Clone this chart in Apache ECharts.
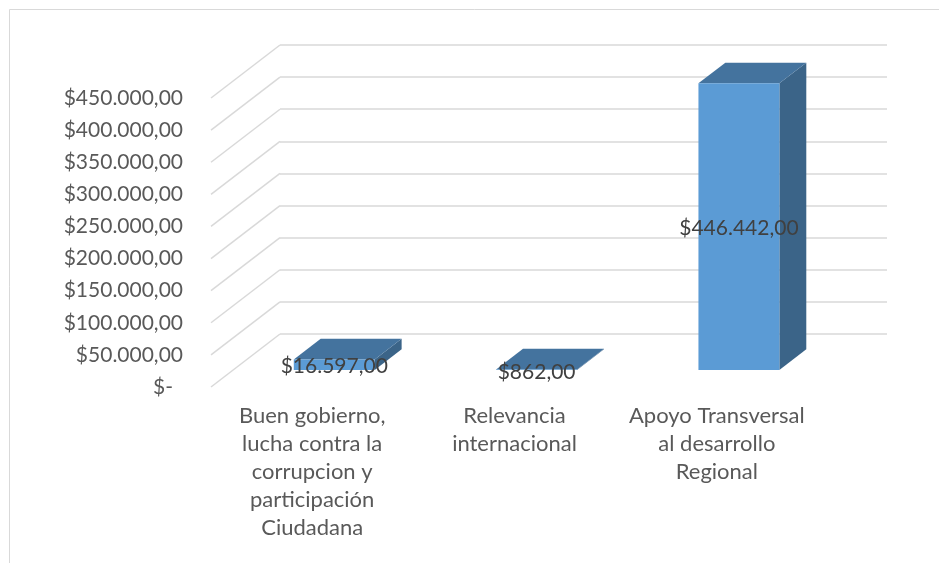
<!DOCTYPE html>
<html>
<head>
<meta charset="utf-8">
<script src="https://cdn.jsdelivr.net/npm/echarts@6/dist/echarts.min.js"></script>
<style>
    html, body { margin: 0; padding: 0; background: #fff; }
    #chart { width: 939px; height: 563px; }
</style>
</head>
<body>
<div id="chart"></div>
<script>
// data
const categories = [
    'Buen gobierno,\nlucha contra la\ncorrupcion y\nparticipación\nCiudadana',
    'Relevancia\ninternacional',
    'Apoyo Transversal\nal desarrollo\nRegional'
];
const values = [16597, 862, 446442];
const yTicks = [0, 50000, 100000, 150000, 200000, 250000, 300000, 350000, 400000, 450000];

// 3d look: floor depth and where the bars stand on it
const FLOOR_DX = -69;
const FLOOR_DY = 53;
const BAR_FRONT = 0.68;
const BAR_DEPTH = 0.39;
const FONT = 'Lato, "Open Sans", sans-serif';

function money(v) {
    if (v === 0) return '$-';
    const s = Math.round(v).toString().replace(/\B(?=(\d{3})+(?!\d))/g, '.');
    return '$' + s + ',00';
}

const chart = echarts.init(document.getElementById('chart'));

const option = {
    backgroundColor: '#fff',
    animation: false,
    graphic: [{
        type: 'rect',
        shape: { x: 9.5, y: 9.5, width: 1200, height: 1200 },
        style: { fill: 'none', stroke: '#d9d9d9', lineWidth: 1 },
        silent: true
    }],
    grid: [
        // back wall
        { left: 280, right: 52, top: 45, bottom: 229 },
        // front edge, carries the labels
        { left: 211, right: 121, top: 98, bottom: 176 }
    ],
    xAxis: [
        {
            type: 'category', gridIndex: 0, data: categories,
            axisLine: { show: false }, axisTick: { show: false }, axisLabel: { show: false }
        },
        {
            type: 'category', gridIndex: 1, data: categories,
            axisLine: { show: false }, axisTick: { show: false },
            axisLabel: {
                margin: 15, color: '#595959', fontSize: 22, fontFamily: FONT,
                lineHeight: 28, align: 'center', interval: 0
            }
        }
    ],
    yAxis: [
        {
            type: 'value', gridIndex: 0, min: 0, max: 450000, interval: 50000,
            axisLine: { show: false }, axisTick: { show: false }, axisLabel: { show: false },
            splitLine: { lineStyle: { color: '#d9d9d9', width: 1.5 } }
        },
        {
            type: 'value', gridIndex: 1, min: 0, max: 450000, interval: 50000,
            axisLine: { show: false }, axisTick: { show: false }, splitLine: { show: false },
            axisLabel: {
                margin: 28, color: '#595959', fontSize: 21, fontFamily: FONT,
                formatter: v => v === 0 ? '{z|$-}' : money(v),
                rich: { z: { fontSize: 21, fontFamily: FONT, color: '#595959', padding: [0, 10, 0, 0] } }
            }
        }
    ],
    series: [
        {
            // diagonal lines on the side wall
            type: 'custom',
            xAxisIndex: 0, yAxisIndex: 0,
            silent: true,
            data: yTicks.map(v => [0, v]),
            renderItem: function (params, api) {
                const y = api.coord([0, api.value(1)])[1];
                const x = params.coordSys.x;
                return {
                    type: 'line',
                    shape: { x1: x, y1: y, x2: x + FLOOR_DX, y2: y + FLOOR_DY },
                    style: { stroke: '#d9d9d9', lineWidth: 1.5 }
                };
            }
        },
        {
            type: 'custom',
            xAxisIndex: 0, yAxisIndex: 0,
            data: values.map((v, i) => [i, v]),
            renderItem: function (params, api) {
                const top = api.coord([api.value(0), api.value(1)]);
                const base = api.coord([api.value(0), 0]);
                const bw = api.size([1, 0])[0] * 0.4;
                const x = top[0] + FLOOR_DX * BAR_FRONT - bw / 2;
                const yt = top[1] + FLOOR_DY * BAR_FRONT;
                const yb = base[1] + FLOOR_DY * BAR_FRONT;
                const dx = -FLOOR_DX * BAR_DEPTH;
                const dy = -FLOOR_DY * BAR_DEPTH;
                return {
                    type: 'group',
                    children: [
                        {
                            type: 'polygon',
                            shape: { points: [[x + bw, yt], [x + bw, yb], [x + bw + dx, yb + dy], [x + bw + dx, yt + dy]] },
                            style: { fill: '#3b6488' }
                        },
                        {
                            type: 'polygon',
                            shape: { points: [[x, yt], [x + bw, yt], [x + bw + dx, yt + dy], [x + dx, yt + dy]] },
                            style: { fill: '#44739e' }
                        },
                        {
                            type: 'rect',
                            shape: { x: x, y: yt, width: bw, height: yb - yt },
                            style: { fill: '#5b9bd5' }
                        },
                        {
                            type: 'text',
                            x: x + bw / 2,
                            y: (yt + yb) / 2 + 2,
                            style: {
                                text: money(api.value(1)),
                                fill: '#404040', font: '21px ' + FONT,
                                align: 'center', verticalAlign: 'middle'
                            }
                        }
                    ]
                };
            }
        }
    ]
};

chart.setOption(option);
window.addEventListener('resize', () => chart.resize());
</script>
</body>
</html>
